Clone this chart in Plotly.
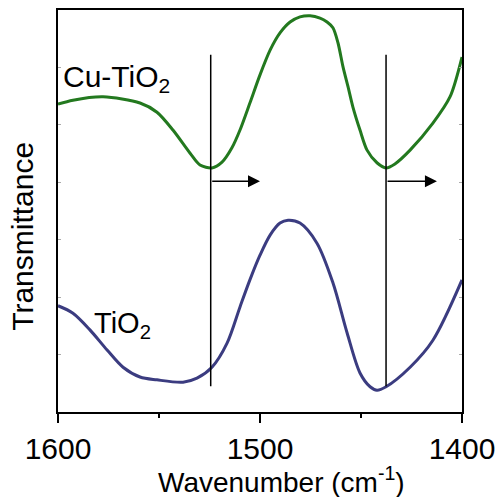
import plotly.graph_objects as go

# FTIR spectra, wavenumber (cm-1) vs transmittance (arbitrary units, offset)
cu_wn = [1600, 1592.6, 1577.7, 1559.4, 1551.0, 1543.1, 1534.7, 1529.7, 1523.8,
         1518.8, 1513.9, 1509.9, 1505.0, 1500.0, 1495.0, 1490.1, 1485.1, 1480.2,
         1475.2, 1470.3, 1466.8, 1463.9, 1461.4, 1458.9, 1456.4, 1454.0, 1450.5,
         1447.0, 1442.1, 1437.6, 1433.2, 1425.7, 1414.4, 1405.9, 1400]
cu_t = [5.36, 5.43, 5.49, 5.38, 5.22, 4.91, 4.51, 4.30, 4.25,
        4.35, 4.60, 4.91, 5.38, 5.87, 6.30, 6.60, 6.79, 6.88,
        6.90, 6.86, 6.79, 6.69, 6.43, 6.01, 5.66, 5.31, 4.91,
        4.56, 4.34, 4.25, 4.32, 4.56, 5.03, 5.49, 6.18]

ti_wn = [1600, 1592.6, 1584.2, 1575.7, 1567.8, 1559.4, 1551.0, 1538.1, 1531.2,
         1523.8, 1516.3, 1509.9, 1505.0, 1500.0, 1495.0, 1490.1, 1486.1, 1480.2,
         1471.8, 1463.9, 1456.9, 1450.5, 1445.5, 1442.1, 1437.6, 1425.7, 1414.4,
         1400]
ti_t = [1.85, 1.72, 1.43, 1.08, 0.78, 0.61, 0.56, 0.52, 0.59,
        0.78, 1.20, 1.83, 2.30, 2.73, 3.08, 3.29, 3.34, 3.29,
        2.94, 2.25, 1.38, 0.68, 0.44, 0.38, 0.44, 0.78, 1.25,
        2.30]

# band positions marked with guide lines, and the shift arrows
band_wn = [1524.4, 1437.6]
arrow_end_wn = [1500.0, 1412.4]
guide_top, guide_bottom = 6.22, 0.45
arrow_t = 4.02

x_ticks = [1600, 1500, 1400]

FONT = "Arial, Liberation Sans, sans-serif"
GREEN = "#23791f"
NAVY = "#3b3c80"

fig = go.Figure()
fig.add_trace(go.Scatter(x=cu_wn, y=cu_t, mode="lines",
                         line=dict(color=GREEN, width=3, shape="spline", smoothing=0.8),
                         showlegend=False, hoverinfo="skip"))
fig.add_trace(go.Scatter(x=ti_wn, y=ti_t, mode="lines",
                         line=dict(color=NAVY, width=3, shape="spline", smoothing=0.9),
                         showlegend=False, hoverinfo="skip"))

for wn in band_wn:
    fig.add_shape(type="line", xref="x", yref="y", x0=wn, x1=wn,
                  y0=guide_bottom, y1=guide_top,
                  line=dict(color="black", width=1.5))

annotations = []
for start, end in zip(band_wn, arrow_end_wn):
    annotations.append(dict(x=end, y=arrow_t, ax=start, ay=arrow_t,
                            xref="x", yref="y", axref="x", ayref="y",
                            text="", showarrow=True, arrowhead=2,
                            arrowsize=1.6, arrowwidth=1.5, arrowcolor="black",
                            standoff=0, startstandoff=0))

annotations += [
    dict(x=1598.5, y=5.80, xref="x", yref="y", xanchor="left", yanchor="middle",
         text="Cu-TiO<sub>2</sub>", showarrow=False,
         font=dict(family=FONT, size=30, color="black")),
    dict(x=1583.0, y=1.52, xref="x", yref="y", xanchor="left", yanchor="middle",
         text="TiO<sub>2</sub>", showarrow=False,
         font=dict(family=FONT, size=29, color="black")),
    dict(x=-0.087, y=0.438, xref="paper", yref="paper", xanchor="center",
         yanchor="middle", textangle=-90, text="Transmittance", showarrow=False,
         font=dict(family=FONT, size=30, color="black")),
    dict(x=0.552, y=-0.168, xref="paper", yref="paper", xanchor="center",
         yanchor="middle", text="Wavenumber (cm<sup>-1</sup>)", showarrow=False,
         font=dict(family=FONT, size=28, color="black")),
]

fig.update_layout(
    width=501, height=497,
    margin=dict(l=58, r=39, t=10, b=85),
    paper_bgcolor="white", plot_bgcolor="white",
    font=dict(family=FONT, size=30, color="black"),
    annotations=annotations,
    xaxis=dict(range=[1600, 1400], tickvals=x_ticks,
               ticktext=[str(v) for v in x_ticks],
               ticks="outside", ticklen=9, tickwidth=1.5, tickcolor="black",
               minor=dict(tickvals=[1550, 1450], ticks="outside", ticklen=4,
                          tickwidth=1.5, tickcolor="black"),
               showline=True, linecolor="black", linewidth=2, mirror=True,
               showgrid=False, zeroline=False, automargin=False,
               tickfont=dict(family=FONT, size=30, color="black")),
    yaxis=dict(range=[0, 7], dtick=1, showticklabels=False,
               ticks="inside", ticklen=3, tickwidth=1, tickcolor="#aaaaaa",
               showline=True, linecolor="black", linewidth=2, mirror="ticks",
               showgrid=False, zeroline=False, automargin=False),
)

fig.write_html("out.html")
